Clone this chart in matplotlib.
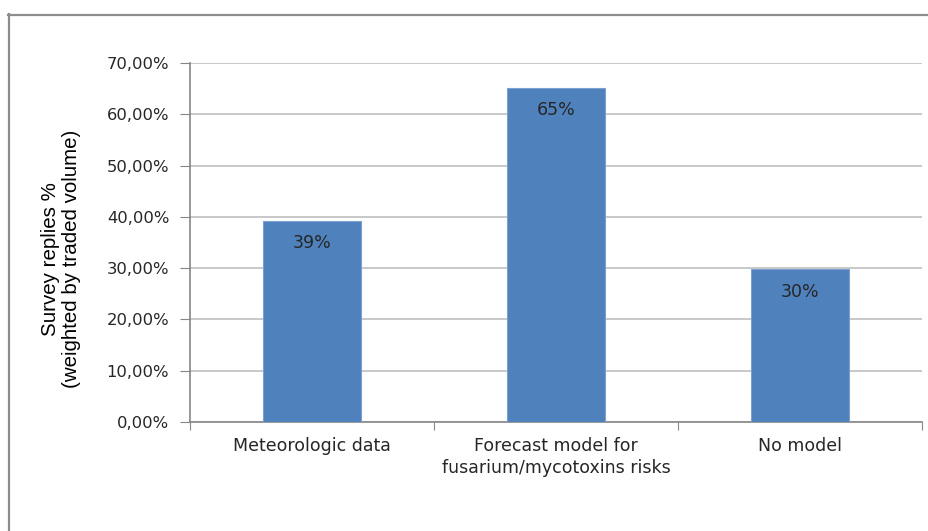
import matplotlib.pyplot as plt
from matplotlib.lines import Line2D

categories = ["Meteorologic data", "Forecast model for\nfusarium/mycotoxins risks", "No model"]
shares = [39.2, 65.2, 29.8]
bar_labels = ["39%", "65%", "30%"]
y_ticks = [0, 10, 20, 30, 40, 50, 60, 70]
y_tick_labels = ["0,00%", "10,00%", "20,00%", "30,00%", "40,00%", "50,00%", "60,00%", "70,00%"]

BAR_COLOR = "#4F81BD"
GRID_COLOR = "#BFBFBF"
AXIS_COLOR = "#868686"
TEXT_COLOR = "#262626"


def main():
    fig = plt.figure(figsize=(9.29, 5.31), dpi=100)
    W, H = 929, 531

    # chart frame (only left and top edges visible in the crop)
    fig.add_artist(Line2D([8.5 / W, 8.5 / W], [0, 1 - 14 / H], transform=fig.transFigure,
                          color="#8C8C8C", lw=1.6))
    fig.add_artist(Line2D([8 / W, 1], [1 - 14.5 / H, 1 - 14.5 / H], transform=fig.transFigure,
                          color="#8C8C8C", lw=1.6))

    ax = fig.add_axes([190 / W, 1 - 422 / H, (922 - 190) / W, (422 - 63) / H])

    x = list(range(len(categories)))
    bars = ax.bar(x, shares, width=0.4, color=BAR_COLOR, edgecolor="#7BA1D0",
                  linewidth=0.8, zorder=3)

    for rect, lab in zip(bars, bar_labels):
        ax.text(rect.get_x() + rect.get_width() / 2, rect.get_height() - 2.6, lab,
                ha="center", va="top", fontsize=12.5, color=TEXT_COLOR,
                family="DejaVu Sans", zorder=4)

    ax.set_xlim(-0.5, len(categories) - 0.5)
    ax.set_ylim(0, 70)
    ax.set_yticks(y_ticks)
    ax.set_yticklabels(y_tick_labels, fontsize=11.8, color=TEXT_COLOR)
    ax.yaxis.grid(True, color=GRID_COLOR, lw=1.2, zorder=0)
    ax.set_axisbelow(True)

    # category ticks at boundaries, labels centered on bars
    ax.set_xticks([i - 0.5 for i in range(len(categories) + 1)])
    ax.set_xticklabels([])
    ax.set_xticks(x, minor=True)
    ax.set_xticklabels(categories, minor=True, fontsize=12.5, color=TEXT_COLOR,
                       linespacing=1.3)
    ax.tick_params(axis="x", which="minor", length=0, pad=11)
    ax.tick_params(axis="x", which="major", length=6, direction="out", color=AXIS_COLOR)
    ax.tick_params(axis="y", length=7, direction="out", color=AXIS_COLOR, pad=8)

    for side in ["top", "right"]:
        ax.spines[side].set_visible(False)
    for side in ["left", "bottom"]:
        ax.spines[side].set_color(AXIS_COLOR)
        ax.spines[side].set_linewidth(1.2)

    fig.text(61 / W, 1 - 259 / H, "Survey replies %\n(weighted by traded volume)",
             rotation=90, ha="center", va="center", fontsize=14.8,
             family=["Liberation Sans", "DejaVu Sans"], color="black",
             linespacing=1.1)

    plt.savefig("out.png", dpi=100)
    plt.close()


if __name__ == "__main__":
    main()
